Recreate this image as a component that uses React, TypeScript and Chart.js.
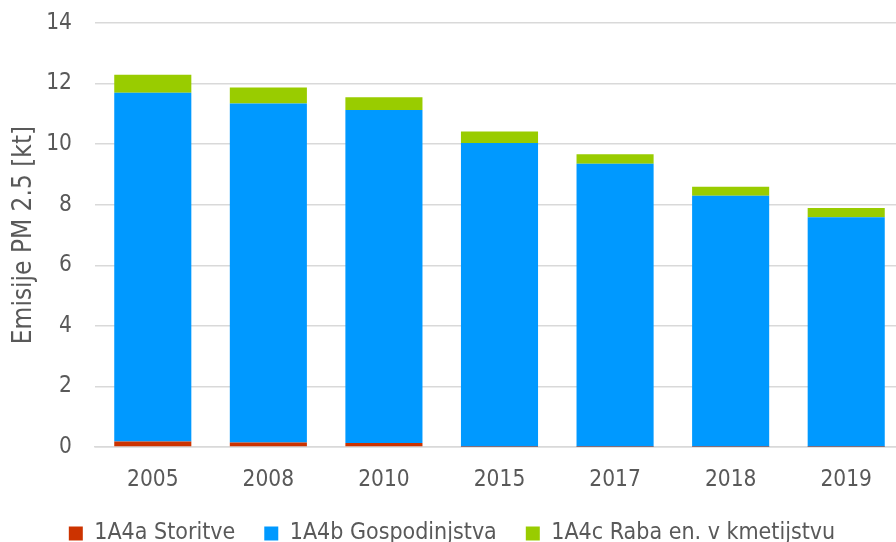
import React, { useEffect, useRef } from "react";
import { Chart, registerables } from "chart.js";

Chart.register(...registerables);

const categories = ["2005", "2008", "2010", "2015", "2017", "2018", "2019"];
const storitve = [0.18, 0.15, 0.13, 0.01, 0.01, 0.01, 0.01];
const gospodinjstva = [11.52, 11.19, 11.0, 10.03, 9.34, 8.29, 7.58];
const kmetijstvo = [0.59, 0.53, 0.42, 0.38, 0.32, 0.29, 0.3];
const seriesNames = ["1A4a Storitve", "1A4b Gospodinjstva", "1A4c Raba en. v kmetijstvu"];
const yTitle = "Emisije PM 2.5 [kt]";

const FONT = "'DejaVu Sans Condensed', 'Liberation Sans', sans-serif";
const TEXT = "#595959";
const GRID = "#d9d9d9";

export default function App() {
  const ref = useRef<HTMLCanvasElement | null>(null);
  useEffect(() => {
    if (!ref.current) return;
    const chart = new Chart(ref.current, {
      type: "bar",
      data: {
        labels: categories,
        datasets: [
          { label: seriesNames[0], data: storitve, backgroundColor: "#cc3300" },
          { label: seriesNames[1], data: gospodinjstva, backgroundColor: "#0099ff" },
          { label: seriesNames[2], data: kmetijstvo, backgroundColor: "#99cc00" },
        ],
      },
      options: {
        responsive: false,
        animation: false,
        devicePixelRatio: 1,
        layout: { padding: { top: 23, left: 0, right: 0, bottom: 0 } },
        datasets: { bar: { categoryPercentage: 1, barPercentage: 0.667, borderWidth: 0 } },
        plugins: {
          tooltip: { enabled: false },
          legend: {
            position: "bottom",
            labels: {
              font: { family: FONT, size: 23 },
              color: TEXT,
              boxWidth: 14,
              boxHeight: 14,
              padding: 29,
            },
          },
        },
        scales: {
          x: {
            stacked: true,
            grid: { display: false, drawTicks: false },
            border: { display: true, color: GRID, width: 1.5 },
            ticks: { font: { family: FONT, size: 22.5 }, color: TEXT, padding: 20, maxRotation: 0 },
            afterFit: (s: any) => {
              s.height = 46;
            },
          },
          y: {
            stacked: true,
            min: 0,
            max: 14,
            ticks: { stepSize: 2, font: { family: FONT, size: 22.5 }, color: TEXT, padding: 23 },
            grid: { color: GRID, lineWidth: 1.5, drawTicks: false },
            border: { display: false },
            title: {
              display: true,
              text: yTitle,
              font: { family: FONT, size: 26 },
              color: TEXT,
              padding: { top: 9, bottom: 6 },
            },
            afterFit: (s: any) => {
              s.width = 95;
              s.paddingTop = 0;
              s.paddingBottom = 0;
            },
          },
        },
      },
    });
    return () => chart.destroy();
  }, []);
  return (
    <div
      style={{
        position: "fixed",
        left: 0,
        top: 0,
        width: 896,
        height: 542,
        overflow: "hidden",
        background: "#fff",
      }}
    >
      <canvas ref={ref} width={904} height={555} style={{ display: "block" }} />
    </div>
  );
}
